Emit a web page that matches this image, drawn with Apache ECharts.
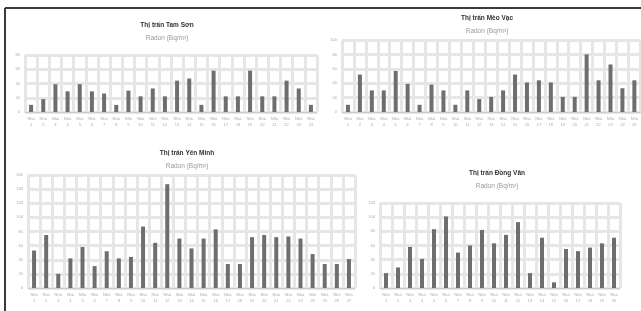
<!DOCTYPE html>
<html><head><meta charset="utf-8">
<script src="https://cdn.jsdelivr.net/npm/echarts@6/dist/echarts.min.js"></script>
<style>html,body{margin:0;padding:0;background:#fff}#c{width:641px;height:311px}</style>
</head><body><div id="c"></div>
<script>
const titles = ["Thị trấn Tam Sơn", "Thị trấn Mèo Vạc", "Thị trấn Yên Minh", "Thị trấn Đồng Văn"];
const subtitle = "Radon (Bq/m³)";
const tamSon = [10, 18, 39, 29, 39, 29, 26, 10, 30, 22, 33, 22, 44, 47, 10, 58, 22, 22, 58, 22, 22, 44, 33, 10];
const meoVac = [10, 52, 30, 30, 57, 39, 10, 38, 30, 10, 30, 18, 21, 30, 52, 41, 44, 41, 21, 21, 80, 44, 66, 33, 44];
const yenMinh = [53, 75, 20, 42, 58, 31, 52, 42, 44, 87, 64, 147, 70, 56, 70, 83, 34, 34, 72, 75, 72, 73, 70, 48, 34, 34, 41];
const dongVan = [21, 29, 58, 41, 83, 101, 50, 60, 82, 63, 75, 93, 21, 71, 8, 55, 52, 57, 63, 71];
const yMax = [80, 100, 160, 120];
const yStep = 20;
const catPrefix = "Nhà";

const datasets = [tamSon, meoVac, yenMinh, dongVan];
const cats = datasets.map(d => d.map((_, i) => catPrefix + "\n" + (i + 1)));

const grids = [
  {left: 25, top: 55, width: 292, height: 57},
  {left: 342, top: 40, width: 300, height: 72},
  {left: 28, top: 175, width: 327, height: 113},
  {left: 380, top: 203, width: 240, height: 85}
];
const titlePos = [[162, 17], [482, 10], [182, 145], [492, 165]];

const chart = echarts.init(document.getElementById('c'), null, {renderer: 'canvas'});
const gridColor = '#e6e6e6';
chart.setOption({
  animation: false,
  backgroundColor: '#fff',
  title: titles.map((t, i) => ({
    text: t, subtext: subtitle,
    left: titlePos[i][0], top: titlePos[i][1], textAlign: 'center', itemGap: 6,
    textStyle: {fontSize: 6.5, fontWeight: 'bold', color: '#333', fontFamily: 'Liberation Sans'},
    subtextStyle: {fontSize: 6.5, color: '#999', fontFamily: 'Liberation Sans'}
  })),
  grid: grids.map(g => Object.assign({containLabel: false}, g)),
  xAxis: datasets.map((d, i) => ({
    type: 'category', gridIndex: i, data: cats[i],
    axisLine: {lineStyle: {color: '#ccc'}}, axisTick: {show: false},
    axisLabel: {fontSize: 4, color: '#aaa', lineHeight: 6, margin: 4, interval: 0, fontFamily: 'Liberation Sans'},
    splitLine: {show: true, interval: 0, lineStyle: {color: gridColor, width: 3}}
  })),
  yAxis: datasets.map((d, i) => ({
    type: 'value', gridIndex: i, min: 0, max: yMax[i], interval: yStep,
    axisLine: {show: false}, axisTick: {show: false},
    axisLabel: {fontSize: 4, color: '#aaa', margin: 5, fontFamily: 'Liberation Sans'},
    splitLine: {show: true, lineStyle: {color: gridColor, width: 3}}
  })),
  series: datasets.map((d, i) => ({
    type: 'bar', xAxisIndex: i, yAxisIndex: i, data: d, barWidth: 4,
    itemStyle: {color: '#6e6e6e'}
  })),
  graphic: [
    {type: 'line', shape: {x1: 5, y1: 8, x2: 641, y2: 8}, style: {stroke: '#3a3a3a', lineWidth: 2}},
    {type: 'line', shape: {x1: 5, y1: 8, x2: 5, y2: 311}, style: {stroke: '#3a3a3a', lineWidth: 2}}
  ]
});
</script></body></html>
